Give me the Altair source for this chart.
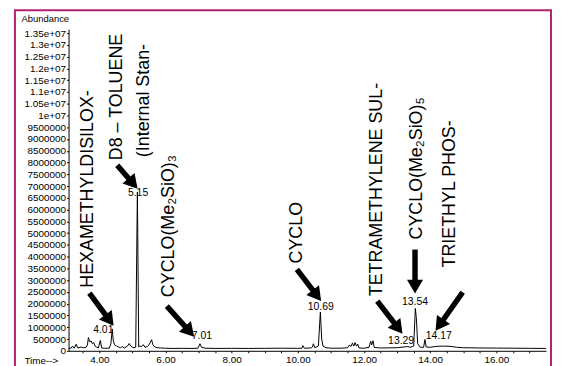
import math
import altair as alt
import pandas as pd

# ---- chromatogram trace (retention time in min, abundance) ----
times = [3.07, 3.15, 3.19, 3.24, 3.30, 3.35, 3.45, 3.52, 3.60, 3.64, 3.67, 3.71, 3.75, 3.79,
         3.83, 3.87, 3.92, 3.97, 4.03, 4.07, 4.15, 4.30, 4.35, 4.39, 4.42, 4.46, 4.52, 4.58,
         4.64, 4.70, 4.75, 4.85, 4.90, 4.95, 5.00, 5.05, 5.10, 5.15, 5.19, 5.22, 5.28, 5.33,
         5.38, 5.45, 5.50, 5.58, 5.62, 5.68, 5.75, 5.85, 6.00, 6.20, 6.50, 6.80, 6.98, 7.04,
         7.09, 7.20, 7.50, 8.00, 8.50, 9.00, 9.50, 10.00, 10.12, 10.15, 10.19, 10.40, 10.44,
         10.47, 10.51, 10.62, 10.68, 10.72, 10.76, 10.85, 11.00, 11.30, 11.50, 11.56, 11.60,
         11.65, 11.69, 11.73, 11.77, 11.81, 11.85, 12.00, 12.15, 12.20, 12.23, 12.27, 12.31,
         12.50, 13.00, 13.25, 13.32, 13.40, 13.50, 13.55, 13.58, 13.62, 13.70, 13.80, 13.84,
         13.88, 14.00, 14.20, 14.40, 14.60, 14.80, 15.00, 15.50, 16.00, 16.50, 17.00, 17.50]
abund = [100000, 120000, 200000, 110000, 280000, 120000, 160000, 130000, 150000, 250000,
         560000, 380000, 420000, 300000, 350000, 200000, 160000, 120000, 440000, 120000,
         110000, 110000, 300000, 930000, 450000, 250000, 200000, 160000, 130000, 180000,
         110000, 200000, 310000, 200000, 150000, 130000, 150000, 6750000, 160000, 200000,
         180000, 260000, 150000, 180000, 250000, 470000, 250000, 160000, 130000, 120000,
         110000, 100000, 105000, 100000, 110000, 300000, 150000, 110000, 100000, 105000,
         100000, 105000, 110000, 105000, 110000, 220000, 110000, 120000, 160000, 300000,
         130000, 200000, 1650000, 500000, 200000, 130000, 110000, 110000, 130000, 250000,
         180000, 330000, 200000, 350000, 200000, 280000, 120000, 110000, 150000, 400000,
         250000, 430000, 140000, 120000, 130000, 170000, 180000, 150000, 200000, 1800000,
         1400000, 300000, 150000, 150000, 480000, 160000, 150000, 190000, 200000, 190000,
         150000, 130000, 120000, 115000, 110000, 105000, 100000]

# ---- retention-time labels ----
peak_labels = ["4.01", "5.15", "7.01", "10.69", "13.29", "13.54", "14.17"]
peak_label_t = [4.12, 5.17, 7.10, 10.69, 13.12, 13.54, 14.26]
peak_label_a = [886000, 6710000, 633000, 1860000, 400000, 2070000, 633000]

# ---- compound names (rotated) ----
compound_names = ["HEXAMETHYLDISILOX-", "D8 \u2013 TOLUENE", "(Internal Stan-",
                  "CYCLO(Me\u2082SiO)\u2083", "CYCLO", "TETRAMETHYLENE SUL-",
                  "CYCLO(Me\u2082SiO)\u2085", "TRIETHYL PHOS-"]
name_t = [3.67, 4.54, 5.35, 6.115, 9.97, 12.40, 13.60, 14.60]
name_a = [2680000, 8100000, 8230000, 2280000, 3710000, 2320000, 4730000, 3540000]

# ---- arrows (start -> tip) ----
arrow_t0 = [3.70, 4.54, 6.04, 9.97, 12.40, 13.54, 14.98]
arrow_a0 = [2447000, 7889000, 1898000, 3459000, 2109000, 4303000, 2489000]
arrow_t1 = [4.39, 5.11, 6.82, 10.66, 13.12, 13.54, 14.20]
arrow_a1 = [1139000, 6961000, 675000, 2194000, 802000, 2531000, 928000]

y_ticks = list(range(0, 13500001, 500000))
x_ticks = [3.5 + 0.5 * i for i in range(28)]

# ---- layout ----
W, H = 481, 324
X0, X1 = 3.07, 17.5
YMAX = 13668750
FONT = "Liberation Sans"
HEAD = 260

def tx(t):
    return (t - X0) / (X1 - X0) * W

def ay(a):
    return H - a / YMAX * H

def xt(x):
    return X0 + x / W * (X1 - X0)

def ya(y):
    return (H - y) / H * YMAX

h = math.sqrt(3) / 4 * math.sqrt(HEAD)
rows = []
for t0, a0, t1, a1 in zip(arrow_t0, arrow_a0, arrow_t1, arrow_a1):
    x0, y0, x1, y1 = tx(t0), ay(a0), tx(t1), ay(a1)
    dx, dy = x1 - x0, y1 - y0
    L = math.hypot(dx, dy)
    ux, uy = dx / L, dy / L
    cx, cy = x1 - ux * h, y1 - uy * h
    ang = math.degrees(math.atan2(ux, -uy)) % 360
    rows.append({"t": t0, "a": a0, "t2": xt(cx), "a2": ya(cy), "ang": ang})
arrows = pd.DataFrame(rows)

trace = pd.DataFrame({"t": times, "a": abund})
plabels = pd.DataFrame({"t": peak_label_t, "a": peak_label_a, "lab": peak_labels})
names = pd.DataFrame({"t": name_t, "a": name_a, "lab": compound_names})

xscale = alt.Scale(domain=[X0, X1], nice=False, zero=False)
yscale = alt.Scale(domain=[0, YMAX], nice=False, zero=True)

label_expr_y = "datum.value >= 10000000 ? (datum.value / 10000000) + 'e+07' : datum.value + ''"

X_AXIS = alt.Axis(values=x_ticks,
                  labelExpr="datum.value % 2 == 0 ? format(datum.value, '.2f') : ''",
                  title="Time-->", titleX=-45, titleY=10, titleAlign="left",
                  titleBaseline="middle", titleAngle=0, grid=False,
                  tickSize=2, labelPadding=2, labelFontSize=10, titleFontSize=10,
                  titleFontWeight="normal", domainColor="black", tickColor="black",
                  labelColor="black", titleColor="black", labelFont=FONT, titleFont=FONT)
Y_AXIS = alt.Axis(values=y_ticks, labelExpr=label_expr_y, title="Abundance",
                  titleX=-48, titleY=-11, titleAngle=0, titleAlign="left",
                  titleBaseline="middle", grid=False, tickSize=2, labelPadding=1,
                  labelFontSize=10, titleFontSize=9.5, titleFontWeight="normal",
                  domainColor="black", tickColor="black", labelColor="black",
                  titleColor="black", labelFont=FONT, titleFont=FONT)

border = alt.Chart(pd.DataFrame({"k": [0]})).mark_rect(
    filled=False, stroke="#b0236f", strokeWidth=2
).encode(
    x=alt.value(-54), x2=alt.value(486), y=alt.value(-19), y2=alt.value(400)
)

peak_text = alt.Chart(plabels).mark_text(
    font=FONT, fontSize=10.5, color="black", baseline="middle", align="center"
).encode(
    x=alt.X("t:Q", scale=xscale, axis=X_AXIS),
    y=alt.Y("a:Q", scale=yscale, axis=Y_AXIS),
    text="lab:N",
)

line = alt.Chart(trace).mark_line(color="black", strokeWidth=1, interpolate="linear").encode(
    x=alt.X("t:Q", scale=xscale, axis=X_AXIS),
    y=alt.Y("a:Q", scale=yscale, axis=Y_AXIS),
)

name_text = alt.Chart(names).mark_text(
    font=FONT, fontSize=18, color="black", angle=270, align="left", baseline="middle"
).encode(
    x=alt.X("t:Q", scale=xscale, axis=X_AXIS),
    y=alt.Y("a:Q", scale=yscale, axis=Y_AXIS),
    text="lab:N",
)

shafts = alt.Chart(arrows).mark_rule(color="black", strokeWidth=5.5, strokeCap="butt").encode(
    x=alt.X("t:Q", scale=xscale, axis=X_AXIS),
    y=alt.Y("a:Q", scale=yscale, axis=Y_AXIS),
    x2="t2:Q",
    y2="a2:Q",
)

heads = alt.Chart(arrows).mark_point(
    shape="triangle", filled=True, size=HEAD, color="black", opacity=1, strokeWidth=0
).encode(
    x=alt.X("t2:Q", scale=xscale, axis=X_AXIS),
    y=alt.Y("a2:Q", scale=yscale, axis=Y_AXIS),
    angle=alt.Angle("ang:Q", scale=None),
)

chart = alt.layer(line, border, peak_text, name_text, shafts, heads).properties(
    width=W, height=H,
    background="white",
    autosize=alt.AutoSizeParams(type="none"),
    padding={"left": 61, "top": 20, "right": 7, "bottom": 14},
).configure_view(stroke=None)

chart.save("out.html", embed_options={"renderer": "svg", "actions": False})
